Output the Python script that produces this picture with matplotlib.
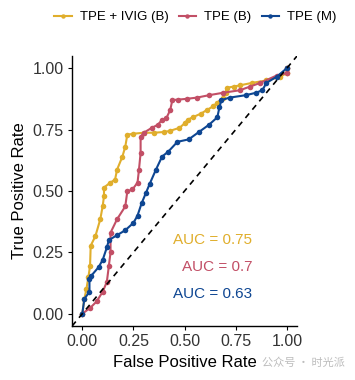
#!/usr/bin/env python3
"""ROC curves for three treatment groups (TPE + IVIG, TPE (B), TPE (M))."""

import matplotlib

matplotlib.use("Agg")
import matplotlib.pyplot as plt

YELLOW = "#E0AE2C"
PINK = "#C24F66"
BLUE = "#0E4692"

# values
TPE_IVIG_FPR = [0.0, 0.01, 0.02, 0.03, 0.038, 0.041, 0.064, 0.088, 0.1, 0.106, 0.106, 0.137, 0.16,
                0.17, 0.196, 0.21, 0.22, 0.25, 0.30, 0.35, 0.40, 0.43, 0.475, 0.50, 0.515, 0.54,
                0.58, 0.61, 0.64, 0.66, 0.69, 0.70, 0.705, 0.74, 0.77, 0.83, 0.90, 0.965, 1.0, 1.0]
TPE_IVIG_TPR = [0.0, 0.06, 0.10, 0.15, 0.196, 0.277, 0.316, 0.385, 0.44, 0.479, 0.514, 0.534, 0.546,
                0.587, 0.64, 0.68, 0.729, 0.733, 0.737, 0.737, 0.74, 0.745, 0.757, 0.775, 0.79, 0.80,
                0.815, 0.83, 0.845, 0.86, 0.88, 0.90, 0.92, 0.925, 0.93, 0.94, 0.95, 0.964, 0.98, 1.0]

TPE_B_FPR = [0.0, 0.04, 0.07, 0.10, 0.12, 0.13, 0.138, 0.138, 0.17, 0.21, 0.22, 0.245, 0.27, 0.277,
             0.285, 0.285, 0.30, 0.34, 0.37, 0.39, 0.41, 0.43, 0.44, 0.47, 0.51, 0.56, 0.62, 0.69,
             0.77, 0.82, 0.87, 0.95, 1.0, 1.0]
TPE_B_TPR = [0.0, 0.025, 0.05, 0.09, 0.13, 0.196, 0.25, 0.33, 0.385, 0.437, 0.498, 0.506, 0.534, 0.587,
             0.655, 0.72, 0.737, 0.757, 0.77, 0.79, 0.795, 0.83, 0.87, 0.872, 0.875, 0.88, 0.89, 0.90,
             0.91, 0.925, 0.94, 0.97, 0.98, 1.0]

TPE_M_FPR = [0.0, 0.01, 0.035, 0.035, 0.044, 0.08, 0.10, 0.12, 0.13, 0.17, 0.21, 0.25, 0.27, 0.29,
             0.31, 0.33, 0.36, 0.39, 0.42, 0.465, 0.52, 0.57, 0.62, 0.66, 0.67, 0.68, 0.72, 0.80,
             0.85, 0.88, 0.90, 0.95, 1.0]
TPE_M_TPR = [0.0, 0.06, 0.09, 0.14, 0.155, 0.19, 0.22, 0.27, 0.30, 0.32, 0.34, 0.37, 0.40, 0.45,
             0.49, 0.53, 0.587, 0.64, 0.66, 0.70, 0.71, 0.74, 0.77, 0.80, 0.84, 0.87, 0.88, 0.89,
             0.90, 0.91, 0.94, 0.965, 1.0]

LABELS = ["TPE + IVIG (B)", "TPE (B)", "TPE (M)"]
AUC_TEXT = ["AUC = 0.75", "AUC = 0.7", "AUC = 0.63"]
TICKS = [0.0, 0.25, 0.5, 0.75, 1.0]

plt.rcParams["font.family"] = ["Liberation Sans", "DejaVu Sans"]

fig = plt.figure(figsize=(3.55, 3.8), dpi=100)
ax = fig.add_axes([0.203, 0.142, 0.634, 0.711])

series = [
    (TPE_IVIG_FPR, TPE_IVIG_TPR, YELLOW),
    (TPE_B_FPR, TPE_B_TPR, PINK),
    (TPE_M_FPR, TPE_M_TPR, BLUE),
]
handles = []
for (fpr, tpr, color), label in zip(series, LABELS):
    (line,) = ax.plot(fpr, tpr, color=color, lw=1.5, marker="o", ms=4,
                      markeredgewidth=0, label=label, zorder=3)
    handles.append(line)

ax.axline((0, 0), (1, 1), color="black", lw=1.2, ls=(0, (3.5, 3)), zorder=4)

for text, color, y in zip(AUC_TEXT, [YELLOW, PINK, BLUE], [0.30, 0.19, 0.08]):
    ax.text(0.83, y, text, color=color, fontsize=11, ha="right", va="center")

ax.set_xlim(-0.05, 1.05)
ax.set_ylim(-0.05, 1.05)
ax.set_xticks(TICKS)
ax.set_yticks(TICKS)
ax.set_xticklabels([f"{t:.2f}" for t in TICKS])
ax.set_yticklabels([f"{t:.2f}" for t in TICKS])
ax.tick_params(length=3, width=0.8, labelsize=11.5, labelcolor="#333333", pad=3)
for side in ("top", "right"):
    ax.spines[side].set_visible(False)
for side in ("left", "bottom"):
    ax.spines[side].set_linewidth(1.0)
ax.set_xlabel("False Positive Rate", fontsize=12, labelpad=4)
ax.set_ylabel("True Positive Rate", fontsize=12, labelpad=4)

fig.legend(handles=handles, loc="center", bbox_to_anchor=(0.55, 0.955), ncol=3,
           frameon=False, fontsize=9.5, handlelength=1.3, handletextpad=0.6,
           columnspacing=0.8, markerscale=0.8)

fig.text(0.855, 0.045, "公众号 · 时光派", fontsize=8, color="#bdbdbd", ha="center", va="center",
         family=["Noto Sans CJK SC", "DejaVu Sans"])

fig.savefig("out.png", dpi=100)
